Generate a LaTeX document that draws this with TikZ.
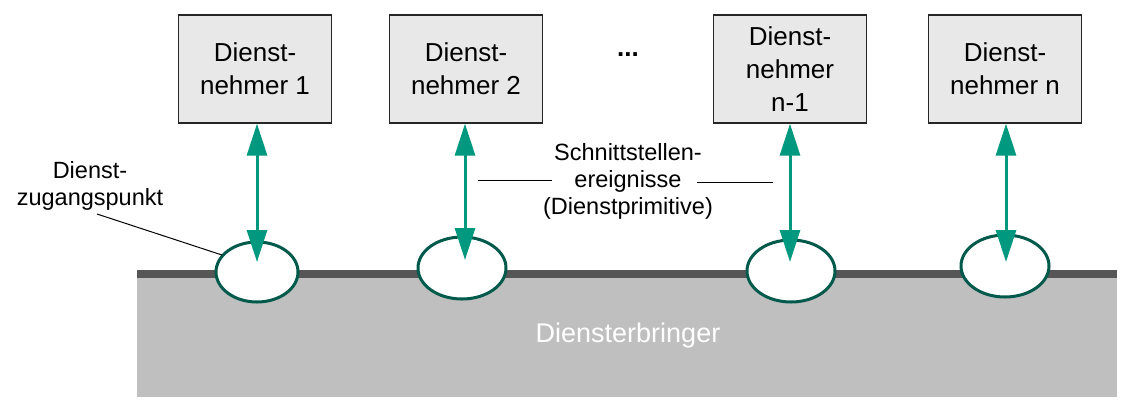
\documentclass[tikz,border=0pt]{standalone}
\usepackage{fontspec}
\setmainfont{Liberation Sans}
\usetikzlibrary{arrows.meta,shapes.geometric}
\definecolor{boxfill}{HTML}{E8E8E8}
\definecolor{base}{HTML}{BFBFBF}
\definecolor{bar}{HTML}{565656}
\definecolor{teal}{HTML}{00997F}
\definecolor{ring}{HTML}{005A4B}
\tikzset{
  nehmer/.style={draw=black!85, line width=1.3pt, fill=boxfill, minimum width=153pt, minimum height=108pt, inner sep=0pt, align=center, font=\fontsize{26}{33}\selectfont},
  sap/.style={ellipse, draw=ring, line width=3pt, fill=white, inner sep=0pt, minimum width=88pt, minimum height=62pt},
  ia/.style={draw=teal, line width=3pt, {Triangle[length=32pt,width=20pt]}-{Triangle[length=32pt,width=20pt]}},
  lbl/.style={align=center, font=\fontsize{23.5}{27}\selectfont, inner sep=0pt},
  lead/.style={draw=black, line width=1pt}
}
\begin{document}
\begin{tikzpicture}[x=1pt,y=-1pt]
\useasboundingbox (0,0) rectangle (1121,400);
\fill[white] (0,0) rectangle (1121,400);
% service provider
\fill[base] (137,278) rectangle (1117,397);
\fill[bar] (137,270) rectangle (1117,278);
\node[text=white, font=\fontsize{27}{32}\selectfont] (prov) at (628,336) {Diensterbringer};
% boxes
\node[nehmer] (b1) at (255,69) {Dienst-\\nehmer 1};
\node[nehmer] (b2) at (466,69) {Dienst-\\nehmer 2};
\node[nehmer] (b3) at (790,69) {Dienst-\\nehmer\\n-1};
\node[nehmer] (b4) at (1005,69) {Dienst-\\nehmer n};
\node[font=\fontsize{26}{33}\selectfont\bfseries] (dots) at (628,55) {...};
% access points
\node[sap, minimum width=82pt, minimum height=60pt] (e1) at (257,272) {};
\node[sap] (e2) at (462,268) {};
\node[sap] (e3) at (791,271) {};
\node[sap] (e4) at (1005,266) {};
% arrows
\coordinate (t1) at (257,262);
\coordinate (t2) at (465,260);
\coordinate (t3) at (790,262);
\coordinate (t4) at (1006,262);
\draw[ia] (b1.south -| t1) -- (t1);
\draw[ia] (b2.south -| t2) -- (t2);
\draw[ia] (b3.south -| t3) -- (t3);
\draw[ia] (b4.south -| t4) -- (t4);
% labels
\node[lbl] (ev) at (628,181) {Schnittstellen-\\ereignisse\\(Dienstprimitive)};
\coordinate (la) at (478,180);
\coordinate (lb) at (552,180);
\coordinate (ra) at (697,182);
\coordinate (rb) at (773,182);
\draw[lead] (la) -- (lb);
\draw[lead] (ra) -- (rb);
\node[lbl] (zp) at (90,186) {Dienst-\\zugangspunkt};
\coordinate (zpa) at (97,214);
\coordinate (zpb) at (222,255);
\draw[lead] (zpa) -- (zpb);
\end{tikzpicture}
\end{document}
